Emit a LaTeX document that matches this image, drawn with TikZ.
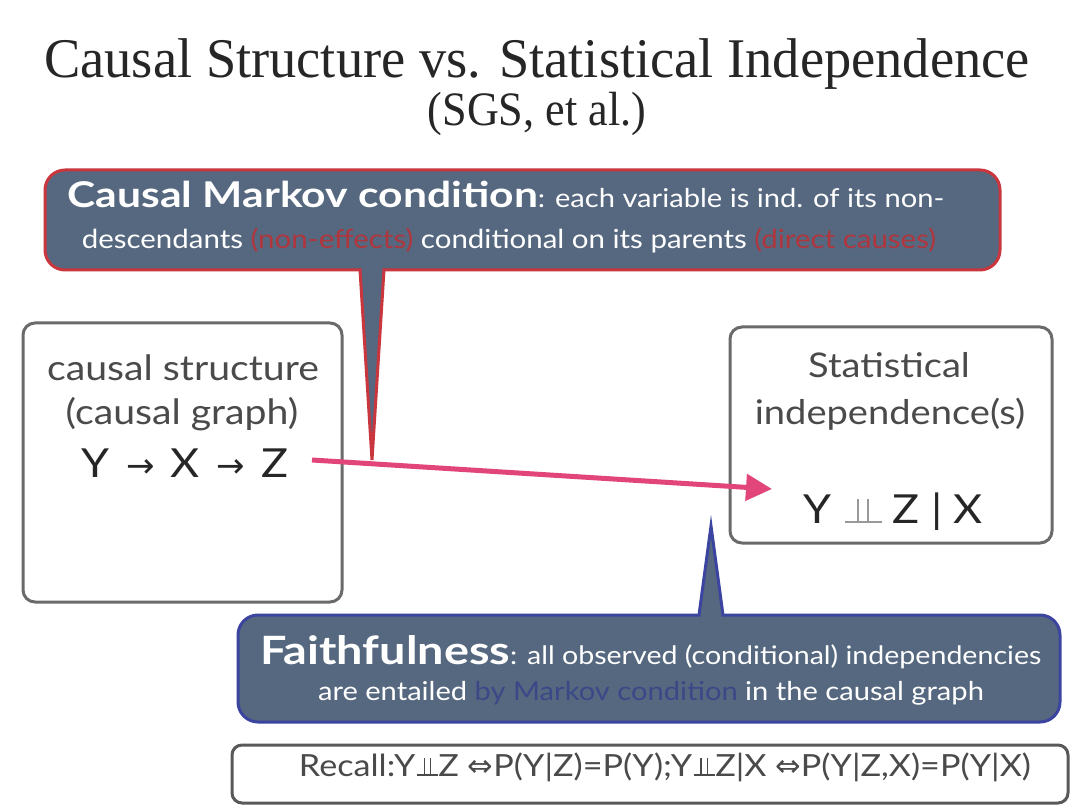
\documentclass[tikz,border=0pt]{standalone}
\usepackage{fontspec}
\setmainfont{Liberation Serif}
\newfontfamily\gs[FakeStretch=1.12]{Lato}
\newfontfamily\gsb[FakeStretch=1.2]{Lato}
\newfontfamily\dejavu{DejaVu Sans}
\usetikzlibrary{arrows.meta}
\definecolor{slate}{HTML}{56687F}
\definecolor{cred}{HTML}{C9363E}
\definecolor{cblue}{HTML}{3B45A0}
\definecolor{redtxt}{HTML}{B0363D}
\definecolor{bluetxt}{HTML}{3A4888}
\definecolor{boxgray}{HTML}{6A6A6A}
\definecolor{txtgray}{HTML}{4A4A4A}
\definecolor{pink}{HTML}{E2457A}
% independence symbol built from rules
\newcommand{\indepsym}[1][1]{\mbox{\hspace{0.05em}\rlap{\rule{#1\dimexpr0.7em\relax}{0.055em}}\hspace{#1\dimexpr0.22em\relax}\rule{0.055em}{0.6em}\hspace{#1\dimexpr0.15em\relax}\rule{0.055em}{0.6em}\hspace{#1\dimexpr0.22em\relax}\hspace{0.01em}}}
\newcommand{\smallarrow}{\hspace{0.12em}{\dejavu\fontsize{34}{38}\selectfont →}\hspace{0.12em}}
\newcommand{\dblarrow}{{\dejavu ⇔}}
\begin{document}
\begin{tikzpicture}[x=1pt,y=-1pt,
  plainbox/.style={draw=boxgray, line width=3pt, rounded corners=12pt, fill=white},
  callbox/.style={fill=slate, line width=3pt, rounded corners=20pt},
  whitetxt/.style={text=white, font=\gs\fontsize{26}{32}\selectfont, anchor=base, inner sep=0pt},
  graytxt/.style={text=txtgray, font=\gs\fontsize{34}{40}\selectfont, anchor=base, inner sep=0pt},
  arrowline/.style={draw=pink, line width=5pt, -{Triangle[length=26pt,width=26pt]}}
]
\useasboundingbox (0,0) rectangle (1080,810);
\fill[white] (0,0) rectangle (1080,810);

% title
\node[anchor=base, inner sep=0pt, text=black!85, font=\fontsize{56}{60}\selectfont] (title) at (537,78) {\scalebox{0.972}[1]{Causal Structure vs. Statistical Independence}};
\node[anchor=base, inner sep=0pt, text=black!85, font=\fontsize{48}{50}\selectfont] (subtitle) at (537,126) {\scalebox{0.92}[1]{(SGS, et al.)}};

% red callout
\node[callbox, draw=cred, minimum width=955pt, minimum height=100pt] (cmc) at (522.5,220) {};
\filldraw[fill=slate, draw=cred, line width=3pt, line join=miter] (360,270) -- (372,460) -- (384,270);
\fill[slate] (361.8,265) -- (382.2,265) -- (381.9,273) -- (362.1,273) -- cycle;
\node[whitetxt] (cmc1) at (506,208) {{\gsb\fontsize{35.5}{40}\selectfont\bfseries Causal Markov condition}: each variable is ind. of its non-};
\node[whitetxt, font=\gs\fontsize{26.3}{32}\selectfont] (cmc2) at (509,249) {descendants {\color{redtxt}(non-effects)} conditional on its parents {\color{redtxt}(direct causes)}};

% boxes
\node[plainbox, minimum width=319pt, minimum height=279pt] (cs) at (182.5,462.5) {};
\node[graytxt, font=\gs\fontsize{35}{40}\selectfont] (cs1) at (183,381) {causal structure};
\node[graytxt, font=\gs\fontsize{35}{40}\selectfont] (cs2) at (182,425) {(causal graph)};
\node[graytxt, text=black!85, font=\gs\fontsize{40}{46}\selectfont] (cs3) at (185,478) {Y \smallarrow{} X \smallarrow{} Z};

\node[plainbox, minimum width=322pt, minimum height=216pt] (si) at (891,435) {};
\node[graytxt] (si1) at (889,378) {Statistical};
\node[graytxt] (si2) at (890,425) {independence(s)};
\node[graytxt, text=black!85, font=\gs\fontsize{40}{46}\selectfont] (si3) at (893,523) {Y\hspace{0.3em}{\color{black!40}\indepsym[1.3]}\hspace{0.3em}Z | X};

% arrow
\coordinate (arrS) at (312,460);
\coordinate (arrE) at (772,489);
\draw[arrowline] (arrS) -- (arrE);

% blue callout
\node[callbox, draw=cblue, minimum width=822pt, minimum height=107pt] (faith) at (649,668.5) {};
\filldraw[fill=slate, draw=cblue, line width=3pt, line join=miter] (699,615) -- (711,526) -- (723,615);
\fill[slate] (700.8,620) -- (721.2,620) -- (720.9,612) -- (701.1,612) -- cycle;
\node[whitetxt, font=\gs\fontsize{25.5}{32}\selectfont] (f1) at (651,664) {{\gsb\fontsize{39}{44}\selectfont\bfseries Faithfulness}: all observed (conditional) independencies};
\node[whitetxt] (f2) at (651,700) {are entailed {\color{bluetxt}by Markov condition} in the causal graph};

% recall
\node[plainbox, draw=black!65, rounded corners=10pt, minimum width=836pt, minimum height=58pt] (recall) at (650,774) {};
\node[graytxt, font=\gs\fontsize{30.5}{34}\selectfont] (rtext) at (665,776) {Recall:Y\indepsym Z \dblarrow P(Y|Z)=P(Y);Y\indepsym Z|X \dblarrow P(Y|Z,X)=P(Y|X)};
\end{tikzpicture}
\end{document}
